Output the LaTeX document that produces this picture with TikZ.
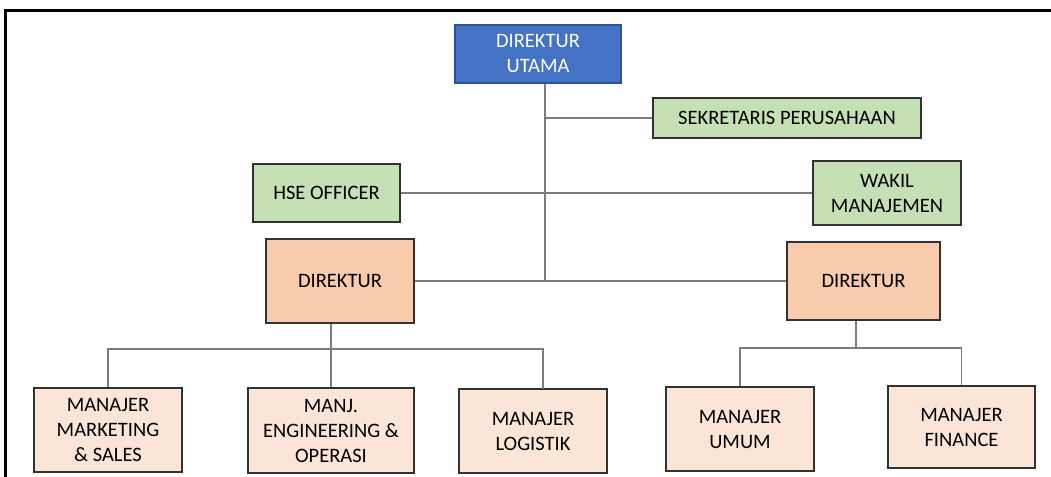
\documentclass[tikz,border=0pt]{standalone}
\usepackage{fontspec}
\setmainfont{Carlito}
\definecolor{edgegray}{RGB}{50,50,50}
\definecolor{topblue}{RGB}{68,114,196}
\definecolor{topedge}{RGB}{47,82,143}
\definecolor{stafgreen}{RGB}{197,224,180}
\definecolor{dirorange}{RGB}{248,203,173}
\definecolor{manpeach}{RGB}{251,229,214}
\definecolor{linkgray}{RGB}{125,125,125}
\begin{document}
\begin{tikzpicture}[x=1bp, y=-1bp,
  box/.style={draw=edgegray, line width=1.3bp, align=center, inner sep=0pt,
    font=\fontsize{20.5bp}{25bp}\selectfont},
  boxtop/.style={box, fill=topblue, draw=topedge, text=white},
  boxstaf/.style={box, fill=stafgreen},
  boxdir/.style={box, fill=dirorange},
  boxman/.style={box, fill=manpeach},
  link/.style={draw=linkgray, line width=1.1bp}]
\useasboundingbox (0,0) rectangle (1051,477);
\draw[line width=3bp] (5,477) -- (5,11) -- (1051,11);
\node[boxtop, minimum width=166bp, minimum height=58bp] (utama) at (538,54) {DIREKTUR\\UTAMA};
\node[boxstaf, minimum width=268bp, minimum height=40bp] (sek) at (787,118) {SEKRETARIS PERUSAHAAN};
\node[boxstaf, minimum width=147bp, minimum height=58bp] (hse) at (326.5,193) {HSE OFFICER};
\node[boxstaf, minimum width=148bp, minimum height=64bp] (wakil) at (887,193) {WAKIL\\MANAJEMEN};
\node[boxdir, minimum width=148bp, minimum height=84bp] (dirL) at (340,281) {DIREKTUR};
\node[boxdir, minimum width=153bp, minimum height=78bp] (dirR) at (863.5,281) {DIREKTUR};
\node[boxman, minimum width=148bp, minimum height=84bp] (mkt) at (108,430) {MANAJER\\MARKETING\\\& SALES};
\node[boxman, minimum width=166bp, minimum height=85bp] (eng) at (331,430.5) {MANJ.\\ENGINEERING \&\\OPERASI};
\node[boxman, minimum width=148bp, minimum height=84bp] (log) at (533,431) {MANAJER\\LOGISTIK};
\node[boxman, minimum width=148bp, minimum height=84bp] (umum) at (740,429) {MANAJER\\UMUM};
\node[boxman, minimum width=147bp, minimum height=82bp] (fin) at (961.5,427) {MANAJER\\FINANCE};
\coordinate (trunk) at (545,281);
\coordinate (jL) at (331,349);
\coordinate (jR) at (856,348);
\coordinate (logup) at (543,389);
\draw[link] (utama.south -| trunk) -- (trunk);
\draw[link] (sek.west) -- (sek.west -| trunk);
\draw[link] (hse.east) -- (wakil.west);
\draw[link] (dirL.east) -- (dirR.west);
\draw[link] (dirL.south -| jL) -- (jL);
\draw[link] (mkt.north) |- (jL) -| (eng.north);
\draw[link] (jL) -| (logup);
\draw[link] (dirR.south -| jR) -- (jR);
\draw[link] (umum.north) |- (jR) -| (fin.north);
\end{tikzpicture}
\end{document}
